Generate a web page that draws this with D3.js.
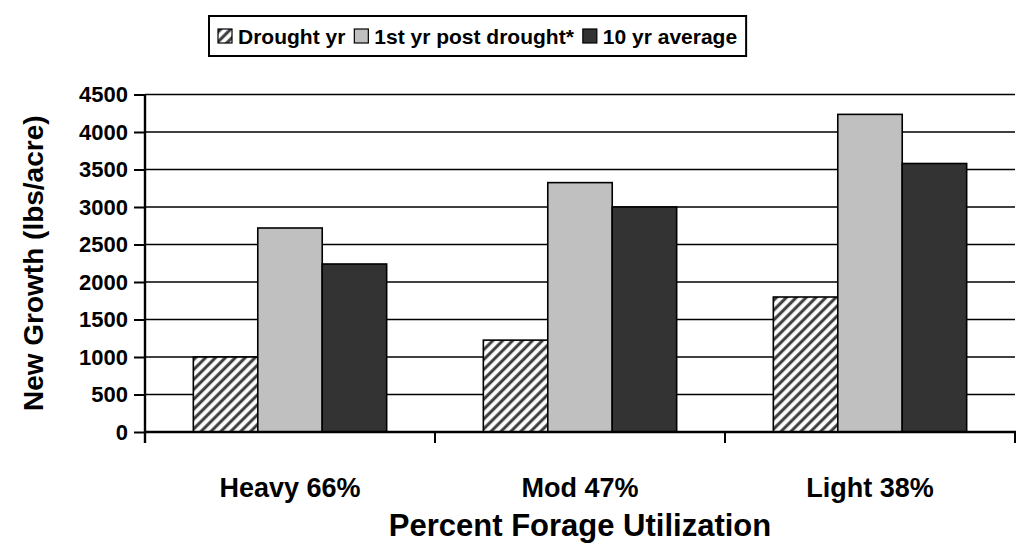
<!DOCTYPE html>
<html>
<head>
<meta charset="utf-8">
<script src="https://cdn.jsdelivr.net/npm/d3@7"></script>
<style>
  body { margin: 0; background: #fff; }
  text { font-family: "Liberation Sans", Arial, sans-serif; font-weight: bold; fill: #000; }
</style>
</head>
<body>
<div id="chart"></div>
<script>
const width = 1016;
const height = 544;

// data
const categories = ["Heavy 66%", "Mod 47%", "Light 38%"];
const seriesNames = ["Drought yr", "1st yr post drought*", "10 yr average"];
const droughtYr = [1000, 1225, 1800];
const postDrought = [2720, 3325, 4235];
const tenYrAvg = [2240, 3000, 3580];
const yTicks = [0, 500, 1000, 1500, 2000, 2500, 3000, 3500, 4000, 4500];

const seriesValues = [droughtYr, postDrought, tenYrAvg];
const fills = ["url(#hatch)", "#c0c0c0", "#333333"];

var margin = { top: 94.5, right: 1, bottom: 112, left: 145 };

var svg = d3.select("#chart").append("svg")
  .attr("width", width)
  .attr("height", height);

// diagonal hatch for drought year
var defs = svg.append("defs");
var pat = defs.append("pattern")
  .attr("id", "hatch")
  .attr("patternUnits", "userSpaceOnUse")
  .attr("width", 7).attr("height", 7)
  .attr("patternTransform", "rotate(45)");
pat.append("rect").attr("width", 7).attr("height", 7).attr("fill", "#fff");
pat.append("line")
  .attr("x1", 1.75).attr("y1", 0).attr("x2", 1.75).attr("y2", 7)
  .attr("stroke", "#3a3a3a").attr("stroke-width", 3);

var x = d3.scaleBand()
  .domain(categories)
  .range([margin.left, width - margin.right])
  .padding(0);

var xInner = d3.scaleBand()
  .domain(d3.range(seriesNames.length))
  .range([0, x.bandwidth()])
  .paddingInner(0)
  .paddingOuter(0.75);

var y = d3.scaleLinear()
  .domain([0, 4500])
  .range([height - margin.bottom, margin.top]);

// gridlines
svg.append("g")
  .selectAll("line")
  .data(yTicks.filter(d => d > 0))
  .join("line")
  .attr("x1", margin.left).attr("x2", width - margin.right)
  .attr("y1", d => y(d)).attr("y2", d => y(d))
  .attr("stroke", "#000").attr("stroke-width", 1.6);

// bars
var groups = svg.append("g")
  .selectAll("g")
  .data(categories)
  .join("g")
  .attr("transform", d => "translate(" + x(d) + ",0)");

groups.selectAll("rect")
  .data((c, ci) => seriesValues.map((vals, si) => ({ si: si, v: vals[ci] })))
  .join("rect")
  .attr("x", d => xInner(d.si))
  .attr("width", xInner.bandwidth())
  .attr("y", d => y(d.v))
  .attr("height", d => y(0) - y(d.v))
  .attr("fill", d => fills[d.si])
  .attr("stroke", "#000")
  .attr("stroke-width", 1.6);

// y axis
var yAxis = svg.append("g")
  .attr("transform", "translate(" + margin.left + ",0)")
  .call(d3.axisLeft(y).tickValues(yTicks).tickFormat(d3.format("d"))
    .tickSize(11).tickSizeOuter(0).tickPadding(6));
yAxis.select(".domain").remove();
yAxis.selectAll(".tick line").attr("stroke", "#000").attr("stroke-width", 2);
yAxis.selectAll(".tick text")
  .style("font-size", "22px")
  .style("font-family", "'Liberation Sans', Arial, sans-serif")
  .style("font-weight", "bold")
  .attr("fill", "#000");

svg.append("line")
  .attr("x1", margin.left).attr("x2", margin.left)
  .attr("y1", y(4500)).attr("y2", y(0) + 11)
  .attr("stroke", "#000").attr("stroke-width", 2.4);

// x axis
var xAxis = svg.append("g")
  .attr("transform", "translate(0," + y(0) + ")");
xAxis.append("line")
  .attr("x1", margin.left).attr("x2", width)
  .attr("stroke", "#000").attr("stroke-width", 2.4);
xAxis.selectAll(".cat-tick")
  .data(categories.slice(1).concat(["end"]))
  .join("line")
  .attr("class", "cat-tick")
  .attr("x1", (d, i) => i < categories.length - 1 ? x(d) : x.range()[1])
  .attr("x2", (d, i) => i < categories.length - 1 ? x(d) : x.range()[1])
  .attr("y1", 0).attr("y2", 11)
  .attr("stroke", "#000").attr("stroke-width", 2);
xAxis.selectAll(".cat-label")
  .data(categories)
  .join("text")
  .attr("class", "cat-label")
  .attr("x", d => x(d) + x.bandwidth() / 2)
  .attr("y", 65)
  .attr("text-anchor", "middle")
  .style("font-size", "27px")
  .text(d => d);

// axis titles
svg.append("text")
  .attr("x", (margin.left + width - margin.right) / 2)
  .attr("y", 536)
  .attr("text-anchor", "middle")
  .style("font-size", "31px")
  .text("Percent Forage Utilization");

svg.append("text")
  .attr("transform", "translate(43," + ((y(0) + y(4500)) / 2) + ") rotate(-90)")
  .attr("text-anchor", "middle")
  .style("font-size", "28px")
  .text("New Growth (lbs/acre)");

// legend
var legend = svg.append("g");
var lx = 218, ly = 36;
var items = legend.selectAll("g")
  .data(seriesNames)
  .join("g");
items.each(function (name, i) {
  var g = d3.select(this);
  g.append("rect")
    .attr("x", lx).attr("y", ly - 7)
    .attr("width", 14).attr("height", 14)
    .attr("fill", fills[i])
    .attr("stroke", "#000").attr("stroke-width", 1.2);
  var t = g.append("text")
    .attr("x", lx + 20).attr("y", ly + 8)
    .style("font-size", "21px")
    .text(name);
  lx += 20 + t.node().getComputedTextLength() + 9;
});
legend.insert("rect", ":first-child")
  .attr("x", 209).attr("y", 16)
  .attr("width", lx - 209)
  .attr("height", 40)
  .attr("fill", "#fff")
  .attr("stroke", "#000").attr("stroke-width", 2);
</script>
</body>
</html>
